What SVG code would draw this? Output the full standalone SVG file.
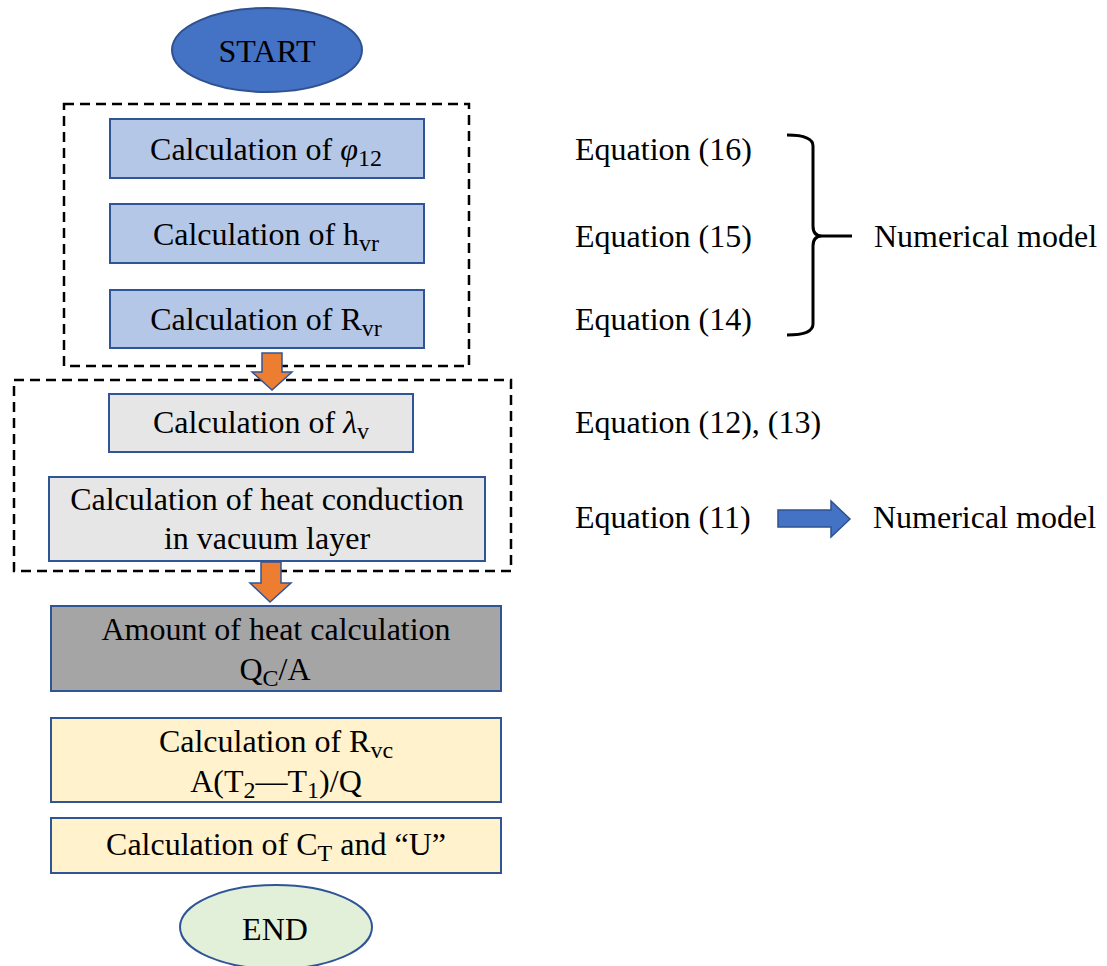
<svg xmlns="http://www.w3.org/2000/svg" width="1107" height="966" viewBox="0 0 1107 966">
<style>
.t{font-family:"Liberation Serif","Times New Roman",serif;font-size:32px;fill:#000}
.m{text-anchor:middle}
.s{font-size:24px}
.box{stroke:#2F5597;stroke-width:2}
.blue{fill:#B4C7E7}
.grey{fill:#E7E6E6}
.dark{fill:#A5A5A5}
.yel{fill:#FFF2CC}
.dash{fill:none;stroke:#000;stroke-width:2.5;stroke-dasharray:10 6}
.oarrow{fill:#ED7D31;stroke:#2F5597;stroke-width:1.5}
</style>
<rect width="1107" height="966" fill="#fff"/>
<g id="groups">
<rect class="dash" x="64" y="104" width="405" height="262"/>
<rect class="dash" x="14" y="380" width="497" height="191"/>
</g>
<g id="start">
<ellipse cx="267" cy="50" rx="95" ry="42" fill="#4472C4" stroke="#2F528F" stroke-width="2"/>
<text class="t m" x="267" y="62">START</text>
</g>
<g id="phi">
<rect class="box blue" x="110" y="119" width="314" height="59"/>
<text class="t m" x="266" y="160">Calculation of <tspan font-style="italic">φ</tspan><tspan class="s" dy="6">12</tspan></text>
</g>
<g id="hvr">
<rect class="box blue" x="110" y="204" width="314" height="59"/>
<text class="t m" x="266" y="245">Calculation of h<tspan class="s" dy="6">vr</tspan></text>
</g>
<g id="rvr">
<rect class="box blue" x="110" y="290" width="314" height="58"/>
<text class="t m" x="266" y="330">Calculation of R<tspan class="s" dy="6">vr</tspan></text>
</g>
<g id="lambda">
<rect class="box grey" x="109" y="394" width="304" height="58"/>
<text class="t m" x="261" y="433">Calculation of <tspan font-style="italic">λ</tspan><tspan class="s" dy="6">v</tspan></text>
</g>
<g id="conduction">
<rect class="box grey" x="49" y="477" width="436" height="84"/>
<text class="t m" x="267" y="510">Calculation of heat conduction</text>
<text class="t m" x="267" y="549">in vacuum layer</text>
</g>
<g id="amount">
<rect class="box dark" x="51" y="606" width="450" height="85"/>
<text class="t m" x="276" y="640">Amount of heat calculation</text>
<text class="t m" x="275" y="680">Q<tspan class="s" dy="6">C</tspan><tspan dy="-6">/A</tspan></text>
</g>
<g id="rvc">
<rect class="box yel" x="51" y="718" width="450" height="84"/>
<text class="t m" x="276" y="752">Calculation of R<tspan class="s" dy="6">vc</tspan></text>
<text class="t m" x="276" y="792">A(T<tspan class="s" dy="6">2</tspan><tspan dy="-6">—T</tspan><tspan class="s" dy="6">1</tspan><tspan dy="-6">)/Q</tspan></text>
</g>
<g id="ct">
<rect class="box yel" x="51" y="818" width="450" height="55"/>
<text class="t m" x="276" y="855">Calculation of C<tspan class="s" dy="6">T</tspan><tspan dy="-6"> and “U”</tspan></text>
</g>
<g id="end">
<ellipse cx="276" cy="927" rx="96" ry="42" fill="#E2F0D9" stroke="#2F5597" stroke-width="2"/>
<text class="t m" x="275" y="940">END</text>
</g>
<g id="equations">
<text class="t" x="575" y="160">Equation (16)</text>
<text class="t" x="575" y="247">Equation (15)</text>
<text class="t" x="575" y="330">Equation (14)</text>
<text class="t" x="575" y="433">Equation (12), (13)</text>
<text class="t" x="575" y="528">Equation (11)</text>
</g>
<g id="model1">
<text class="t" x="874" y="247">Numerical model</text>
</g>
<g id="model2">
<text class="t" x="873" y="528">Numerical model</text>
</g>
<g id="connectors">
<path class="oarrow" d="M262,353 H282 V372 H292 L272,390 L252,372 H262 Z"/>
<path class="oarrow" d="M261,562 H281 V583 H291 L270,602 L250,583 H261 Z"/>
<path d="M778,510 H831 V501 L850,519 L831,537 V527 H778 Z" fill="#4472C4" stroke="#2F528F" stroke-width="1.5"/>
<path d="M787,135 Q813,135 813,146 L813,226 Q813,236 822,236 L852,236 M822,236 Q813,236 813,246 L813,324 Q813,335 787,335" fill="none" stroke="#000" stroke-width="3"/>
</g>
</svg>
